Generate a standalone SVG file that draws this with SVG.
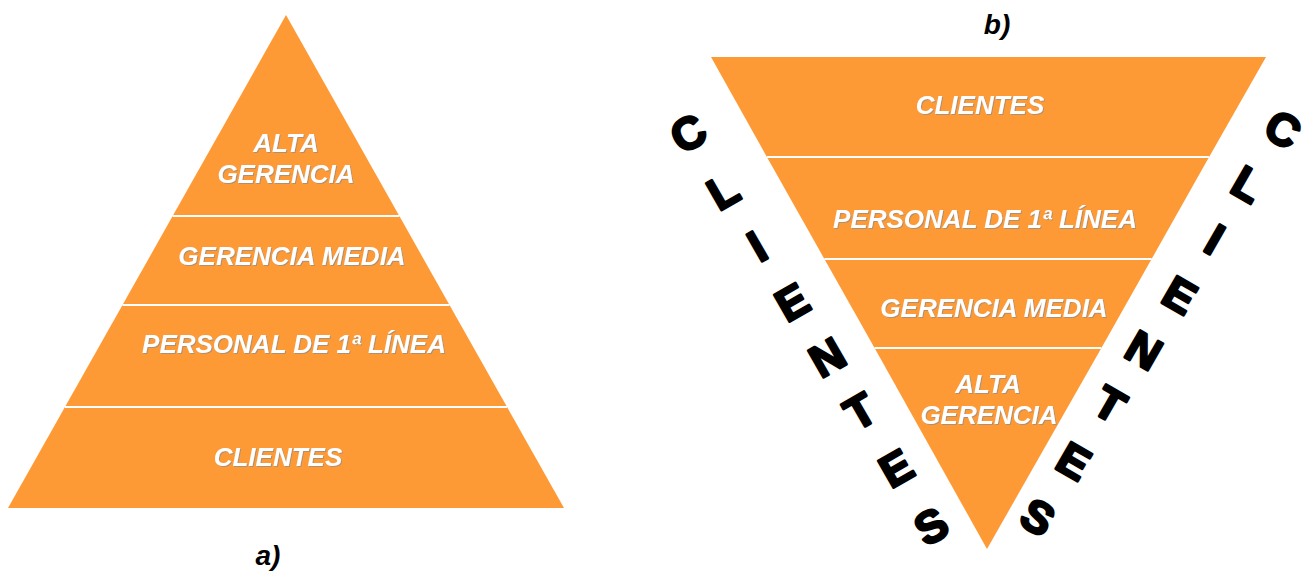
<svg xmlns="http://www.w3.org/2000/svg" width="1309" height="571" viewBox="0 0 1309 571">
  <style>
    .tier { fill: #FE9A36; }
    .lbl { font-family: "Liberation Sans", Arial, sans-serif; font-size: 26px; font-weight: bold; font-style: italic; fill: #ffffff; text-anchor: middle; filter: url(#sh); }
    .sep { stroke: #ffffff; stroke-width: 2; fill: none; }
    .cap { font-family: "Liberation Sans", Arial, sans-serif; font-size: 28px; font-weight: bold; font-style: italic; fill: #000000; text-anchor: middle; }
    .big { font-family: "Liberation Sans", Arial, sans-serif; font-size: 45px; font-weight: bold; fill: #000000; stroke: #000000; stroke-width: 2.6; stroke-linejoin: round; text-anchor: middle; }
  </style>
  <defs>
    <filter id="sh" x="-10%" y="-30%" width="120%" height="160%">
      <feDropShadow dx="1" dy="1" stdDeviation="0.4" flood-color="#8a8a8a" flood-opacity="0.7"/>
    </filter>
  </defs>
  <rect width="1309" height="571" fill="#ffffff"/>

  <!-- a) pyramid -->
  <g id="a-alta">
    <polygon class="tier" points="286,15 399.35,216 172.65,216"/>
    <text class="lbl" x="286" y="152">ALTA</text>
    <text class="lbl" x="286" y="183">GERENCIA</text>
  </g>
  <g id="a-media">
    <polygon class="tier" points="172.65,216 399.35,216 449.5,305 122.5,305"/>
    <text class="lbl" x="292" y="265">GERENCIA MEDIA</text>
  </g>
  <g id="a-personal">
    <polygon class="tier" points="122.5,305 449.5,305 507.05,407 64.95,407"/>
    <text class="lbl" x="294" y="353">PERSONAL DE 1ª LÍNEA</text>
  </g>
  <g id="a-clientes">
    <polygon class="tier" points="64.95,407 507.05,407 564,508 8,508"/>
    <text class="lbl" x="278" y="466">CLIENTES</text>
  </g>

  <!-- b) inverted pyramid -->
  <g id="b-clientes">
    <polygon class="tier" points="711,57 1266,57 1209.1,157 766.9,157"/>
    <text class="lbl" x="980" y="114">CLIENTES</text>
  </g>
  <g id="b-personal">
    <polygon class="tier" points="766.9,157 1209.1,157 1151.6,259 824.4,259"/>
    <text class="lbl" x="985" y="228">PERSONAL DE 1ª LÍNEA</text>
  </g>
  <g id="b-media">
    <polygon class="tier" points="824.4,259 1151.6,259 1101.4,348 874.6,348"/>
    <text class="lbl" x="994" y="317">GERENCIA MEDIA</text>
  </g>
  <g id="b-alta">
    <polygon class="tier" points="874.6,348 1101.4,348 987,549"/>
    <text class="lbl" x="988" y="393">ALTA</text>
    <text class="lbl" x="989" y="424">GERENCIA</text>
  </g>

  <!-- separators -->
  <g id="connectors">
    <line class="sep" x1="172.65" y1="216" x2="399.35" y2="216"/>
    <line class="sep" x1="122.5" y1="305" x2="449.5" y2="305"/>
    <line class="sep" x1="64.95" y1="407" x2="507.05" y2="407"/>
    <line class="sep" x1="766.9" y1="157" x2="1209.1" y2="157"/>
    <line class="sep" x1="824.4" y1="259" x2="1151.6" y2="259"/>
    <line class="sep" x1="874.6" y1="348" x2="1101.4" y2="348"/>
  </g>

  <!-- captions -->
  <g id="captions">
    <text class="cap" x="268" y="565">a)</text>
    <text class="cap" x="997" y="34">b)</text>
  </g>

  <!-- CLIENTES left side -->
  <g id="clientes-left">
    <text class="big" transform="translate(688,133) rotate(-30)" y="16">C</text>
    <text class="big" transform="translate(723,191) rotate(-30)" y="16">L</text>
    <text class="big" transform="translate(757,246) rotate(-30)" y="16">I</text>
    <text class="big" transform="translate(792,302) rotate(-30)" y="16">E</text>
    <text class="big" transform="translate(827,357) rotate(-30)" y="16">N</text>
    <text class="big" transform="translate(860,411) rotate(-30)" y="16">T</text>
    <text class="big" transform="translate(896,468) rotate(-30)" y="16">E</text>
    <text class="big" transform="translate(931,526) rotate(-30)" y="16">S</text>
  </g>

  <!-- CLIENTES right side -->
  <g id="clientes-right">
    <text class="big" transform="translate(1283,129) rotate(30)" y="16">C</text>
    <text class="big" transform="translate(1248,184) rotate(30)" y="16">L</text>
    <text class="big" transform="translate(1215,239) rotate(30)" y="16">I</text>
    <text class="big" transform="translate(1180,295) rotate(30)" y="16">E</text>
    <text class="big" transform="translate(1144,350) rotate(30)" y="16">N</text>
    <text class="big" transform="translate(1110,404) rotate(30)" y="16">T</text>
    <text class="big" transform="translate(1074,461) rotate(30)" y="16">E</text>
    <text class="big" transform="translate(1038,517) rotate(30)" y="16">S</text>
  </g>
</svg>
